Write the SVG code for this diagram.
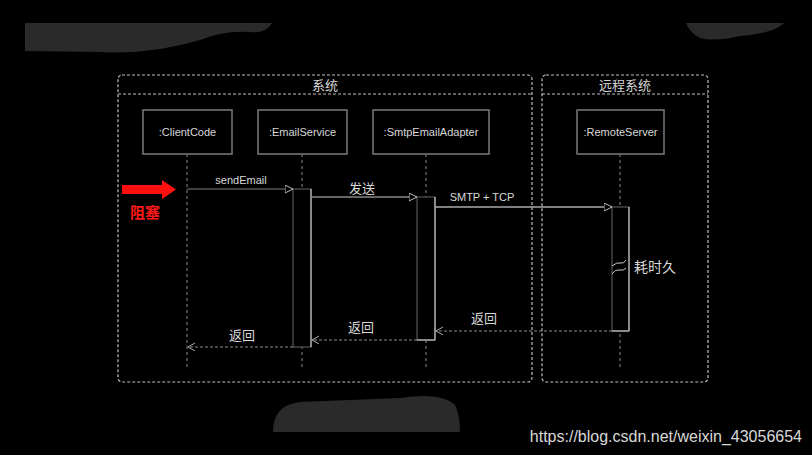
<svg xmlns="http://www.w3.org/2000/svg" width="812" height="455" viewBox="0 0 812 455">
<style>
.frame{fill:none;stroke:#bdbdbd;stroke-width:1.2;stroke-dasharray:3 2}
.life{stroke:#8a8a8a;stroke-width:1;stroke-dasharray:3 3}
.box{fill:#000;stroke:#7a7a7a;stroke-width:1.5}
.act{fill:#000;stroke:#555;stroke-width:1.2}
.edge{stroke:#a8a8a8;stroke-width:1.5}
.t{font-family:"Liberation Sans","Noto Sans CJK SC",sans-serif;fill:#d8d8d8;text-anchor:middle}
.msg{stroke-width:1.3;fill:none}
.ret{stroke:#8a8a8a;stroke-width:1;stroke-dasharray:3 2;fill:none}
.blob{fill:#2a2a2a}
</style>
<defs>
<marker id="tri" markerWidth="10" markerHeight="10" refX="8" refY="4" orient="auto" markerUnits="userSpaceOnUse">
<path d="M0,0 L8,4 L0,8 Z" fill="#000" stroke="#bbb" stroke-width="1"/>
</marker>
<marker id="open" markerWidth="10" markerHeight="10" refX="7" refY="4" orient="auto" markerUnits="userSpaceOnUse">
<path d="M0,0 L7,4 L0,8" fill="none" stroke="#aaa" stroke-width="1"/>
</marker>
</defs>
<rect width="812" height="455" fill="#000"/>
<g id="blobs">
<path class="blob" d="M25,23 L272,23 Q266,34 250,32 Q225,30 200,40 Q150,55 100,52 L25,51 Z"/>
<path class="blob" d="M686,23 L784,23 Q775,33 740,36 Q715,42 700,38 Q690,33 686,23 Z"/>
<path class="blob" d="M273,432 Q273,405 300,402 L400,398 Q440,392 455,405 Q460,415 460,432 Z"/>
</g>
<g id="frame-system">
<rect class="frame" x="118" y="75" width="414" height="307" rx="4"/>
<line class="frame" x1="118" y1="94" x2="532" y2="94"/>
<text class="t" x="325" y="90" font-size="13">系统</text>
</g>
<g id="frame-remote">
<rect class="frame" x="542" y="75" width="166" height="307" rx="4"/>
<line class="frame" x1="542" y1="94" x2="708" y2="94"/>
<text class="t" x="625" y="90" font-size="13">远程系统</text>
</g>
<g id="lifelines">
<line class="life" x1="187" y1="154" x2="187" y2="367"/>
<line class="life" x1="302" y1="154" x2="302" y2="367"/>
<line class="life" x1="426" y1="154" x2="426" y2="367"/>
<line class="life" x1="620" y1="154" x2="620" y2="367"/>
</g>
<g id="ClientCode">
<rect class="box" x="143" y="110" width="89" height="44"/>
<text class="t" x="187.5" y="136" font-size="11">:ClientCode</text>
</g>
<g id="EmailService">
<rect class="box" x="258" y="110" width="89" height="44"/>
<text class="t" x="302.5" y="136" font-size="11">:EmailService</text>
</g>
<g id="SmtpEmailAdapter">
<rect class="box" x="373" y="110" width="116" height="44"/>
<text class="t" x="431" y="136" font-size="11">:SmtpEmailAdapter</text>
</g>
<g id="RemoteServer">
<rect class="box" x="577" y="110" width="87" height="44"/>
<text class="t" x="620.5" y="136" font-size="11">:RemoteServer</text>
</g>
<g id="activations">
<rect class="act" x="293" y="189" width="18" height="158"/>
<line class="edge" x1="311" y1="189" x2="311" y2="347"/>
<rect class="act" x="417" y="197" width="18" height="143"/>
<line class="edge" x1="435" y1="197" x2="435" y2="340"/>
<line class="edge" x1="417" y1="340" x2="435" y2="340"/>
<rect class="act" x="612" y="207" width="17" height="124"/>
<line class="edge" x1="629" y1="207" x2="629" y2="331"/>
<line class="edge" x1="612" y1="331" x2="629" y2="331"/>
</g>
<g id="connectors">
<line class="msg" x1="187" y1="189" x2="293" y2="189" stroke="#555" marker-end="url(#tri)"/>
<text class="t" x="241" y="184" font-size="11">sendEmail</text>
<line class="msg" x1="311" y1="197" x2="417" y2="197" stroke="#888" marker-end="url(#tri)"/>
<text class="t" x="362" y="193" font-size="13">发送</text>
<line class="msg" x1="435" y1="207" x2="612" y2="207" stroke="#aaa" marker-end="url(#tri)"/>
<text class="t" x="482" y="201" font-size="11">SMTP + TCP</text>
<line class="ret" x1="612" y1="331" x2="436" y2="331" marker-end="url(#open)"/>
<text class="t" x="484" y="323" font-size="13">返回</text>
<line class="ret" x1="417" y1="340" x2="312" y2="340" marker-end="url(#open)"/>
<text class="t" x="361" y="332" font-size="13">返回</text>
<line class="ret" x1="293" y1="347" x2="188" y2="347" marker-end="url(#open)"/>
<text class="t" x="242" y="340" font-size="13">返回</text>
</g>
<g id="delay">
<path d="M612,266 Q617,262 620,263 Q624,264 626,260 M612,274 Q615,269 619,270 Q624,271 626,268" fill="none" stroke="#ccc" stroke-width="1"/>
<text class="t" x="655" y="272" font-size="14">耗时久</text>
</g>
<g id="blocking">
<path d="M122,185 L162,185 L162,180 L176,189.5 L162,199 L162,194 L122,194 Z" fill="#ff1010"/>
<text x="145" y="218" font-family="Liberation Sans,'Noto Sans CJK SC',sans-serif" font-size="15" font-weight="bold" fill="#ff1a1a" text-anchor="middle">阻塞</text>
</g>
<text x="802" y="442" font-family="Liberation Sans,sans-serif" font-size="16" fill="#d8d8d8" text-anchor="end">https://blog.csdn.net/weixin_43056654</text>
</svg>
